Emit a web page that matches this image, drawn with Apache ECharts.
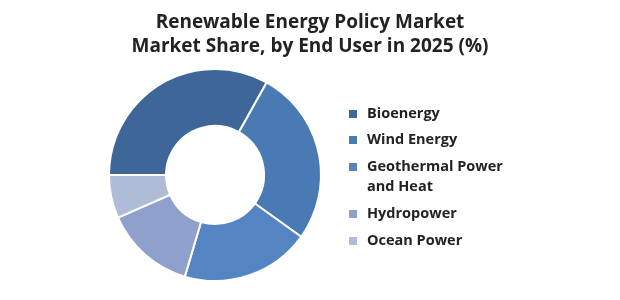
<!DOCTYPE html>
<html>
<head>
<meta charset="utf-8">
<script src="https://cdn.jsdelivr.net/npm/echarts@6/dist/echarts.min.js"></script>
<style>
  html, body { margin: 0; padding: 0; background: #fff; }
  #chart { width: 620px; height: 300px; }
</style>
</head>
<body>
<div id="chart"></div>
<script>
// market share by end user, 2025 (%)
const categories = ['Bioenergy', 'Wind Energy', 'Geothermal Power\nand Heat', 'Hydropower', 'Ocean Power'];
const shares = [33.1, 26.8, 19.7, 13.8, 6.6];
const colors = ['#3f6699', '#4a7ab3', '#5584c2', '#8ea0cb', '#aebcd8'];

const chart = echarts.init(document.getElementById('chart'));

const legendBase = {
  orient: 'vertical',
  left: 347,
  padding: 0,
  icon: 'path://M0,0H10V10H0Z',
  symbolKeepAspect: true,
  itemWidth: 18,
  itemHeight: 10,
  textStyle: {
    fontFamily: 'Open Sans',
    fontWeight: 'bold',
    fontSize: 14.5,
    lineHeight: 20,
    color: '#222'
  },
  // leading blank line keeps the icon level with the first text line
  formatter: function (name) {
    return name.indexOf('\n') >= 0 ? '\n' + name : name;
  }
};

const option = {
  animation: false,
  title: {
    text: 'Renewable Energy Policy Market\nMarket Share, by End User in 2025 (%)',
    left: 'center',
    top: 11,
    padding: 0,
    textStyle: {
      fontFamily: 'Open Sans',
      fontWeight: 'bold',
      fontSize: 19,
      lineHeight: 24,
      color: '#222'
    }
  },
  legend: [
    Object.assign({}, legendBase, { top: 104, itemGap: 6, data: categories.slice(0, 2) }),
    Object.assign({}, legendBase, { top: 137, itemGap: 7, data: categories.slice(2) })
  ],
  series: [
    {
      name: 'Market Share',
      type: 'pie',
      center: [215, 175],
      radius: [49, 106],
      startAngle: 180,
      clockwise: true,
      label: { show: false },
      labelLine: { show: false },
      itemStyle: {
        borderColor: '#fff',
        borderWidth: 2
      },
      data: categories.map(function (name, i) {
        return { name: name, value: shares[i], itemStyle: { color: colors[i] } };
      })
    }
  ]
};

chart.setOption(option);
</script>
</body>
</html>
